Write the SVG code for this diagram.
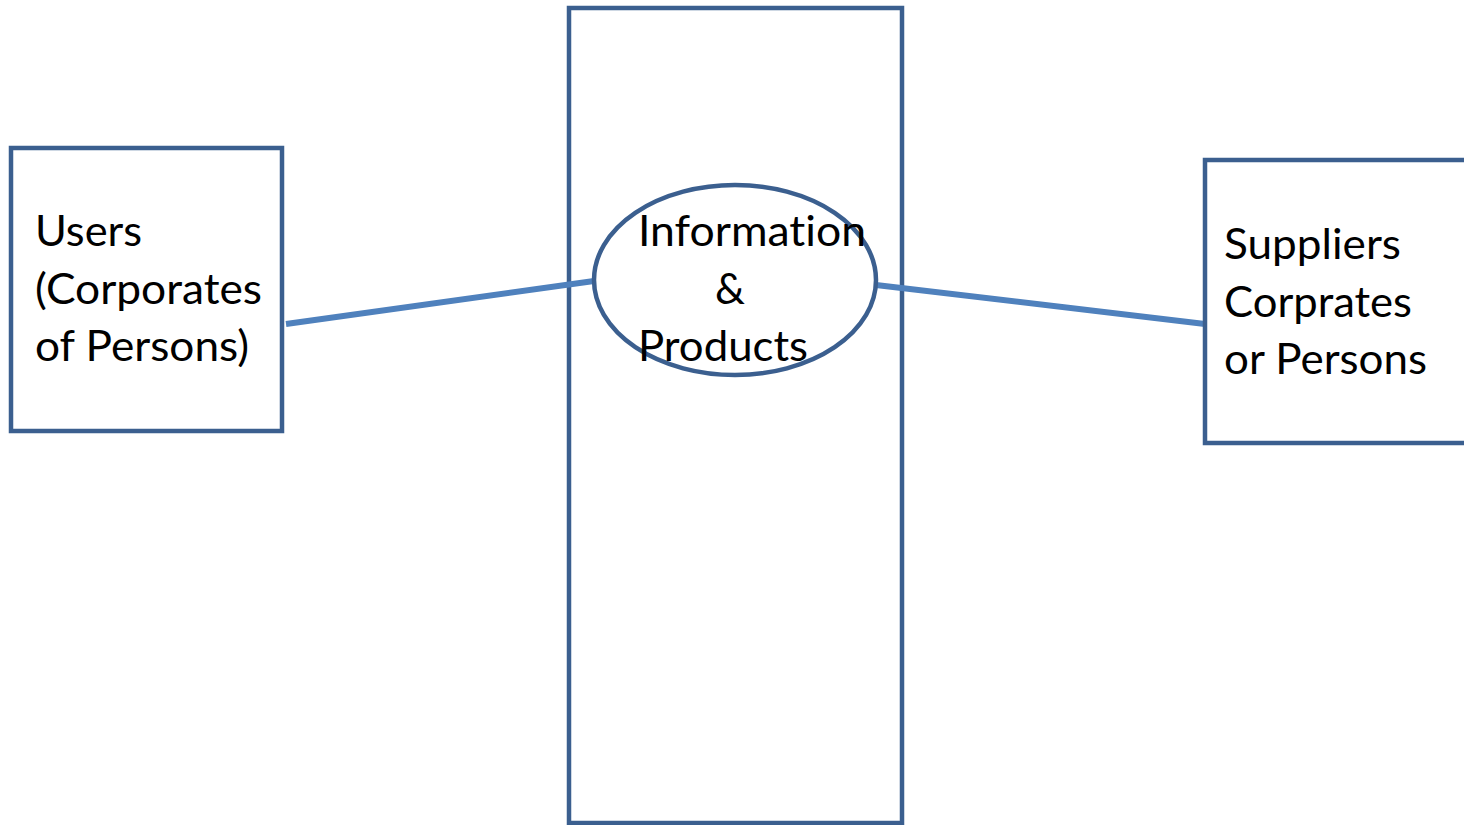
<svg xmlns="http://www.w3.org/2000/svg" width="1464" height="825" viewBox="0 0 1464 825">
<style>
.box{fill:#fff;stroke:#3B5F8F;stroke-width:4.5}
.conn{stroke:#4F81BD;stroke-width:6;fill:none}
.t{font-family:Lato,"Open Sans","Liberation Sans",sans-serif;font-size:42px;fill:#000;font-variant-ligatures:none;font-feature-settings:"liga" 0,"clig" 0}
</style>
<rect width="1464" height="825" fill="#fff"/>
<g id="center">
<rect class="box" x="569" y="8" width="333" height="815"/>
</g>
<g id="connectors">
<line class="conn" x1="286" y1="324" x2="594" y2="281"/>
<line class="conn" x1="876" y1="285" x2="1205" y2="324"/>
</g>
<g id="users">
<rect class="box" x="11" y="148" width="271" height="283"/>
<text class="t" x="35" y="246" textLength="107" lengthAdjust="spacingAndGlyphs">Users</text>
<text class="t" x="35" y="304" textLength="227" lengthAdjust="spacingAndGlyphs">(Corporates</text>
<text class="t" x="35" y="361" textLength="214" lengthAdjust="spacingAndGlyphs">of Persons)</text>
</g>
<g id="info">
<ellipse class="box" cx="735" cy="280" rx="141" ry="95"/>
<text class="t" x="638" y="246" textLength="228" lengthAdjust="spacingAndGlyphs">Information</text>
<text class="t" x="715" y="304" textLength="30" lengthAdjust="spacingAndGlyphs">&amp;</text>
<text class="t" x="638" y="361" textLength="170" lengthAdjust="spacingAndGlyphs">Products</text>
</g>
<g id="suppliers">
<rect class="box" x="1205" y="160" width="300" height="283"/>
<text class="t" x="1224" y="259" textLength="177" lengthAdjust="spacingAndGlyphs">Suppliers</text>
<text class="t" x="1224" y="317" textLength="188" lengthAdjust="spacingAndGlyphs">Corprates</text>
<text class="t" x="1224" y="374" textLength="203" lengthAdjust="spacingAndGlyphs">or Persons</text>
</g>
</svg>
